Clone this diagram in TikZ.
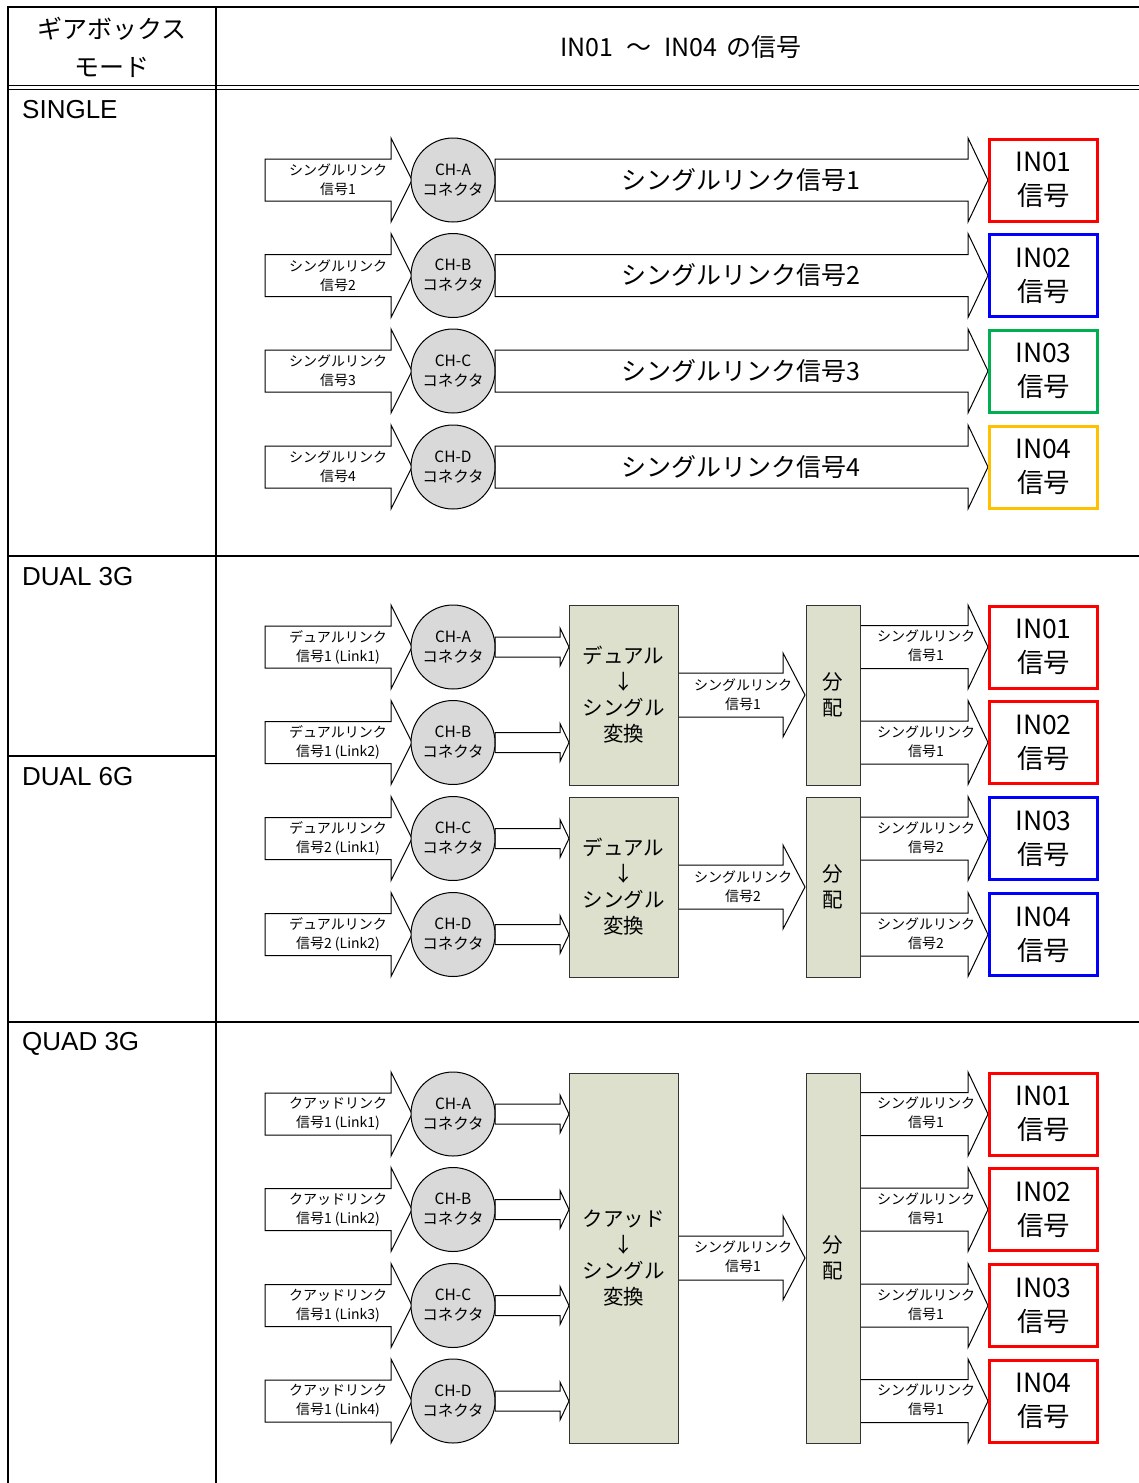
\documentclass[tikz,border=0pt]{standalone}
\usepackage{fontspec}
\setmainfont{Noto Sans CJK JP}
\newfontfamily\latfont{Liberation Sans}
\definecolor{convfill}{RGB}{221,224,204}
\definecolor{circfill}{RGB}{217,217,217}
\definecolor{inblue}{RGB}{0,0,255}
\definecolor{ingreen}{RGB}{0,176,80}
\definecolor{inorange}{RGB}{255,192,0}
\definecolor{inred}{RGB}{255,0,0}
\newcommand{\blkarrow}[6]{\draw[arr] (#1,{#3-#4}) -- ({#2-#6},{#3-#4}) -- ({#2-#6},{#3-#5}) -- (#2,#3) -- ({#2-#6},{#3+#5}) -- ({#2-#6},{#3+#4}) -- (#1,{#3+#4}) -- cycle;}
\begin{document}
\begin{tikzpicture}[x=1pt,y=-1pt,
  tbl/.style={line width=2pt},
  arr/.style={draw=black,fill=white,line width=1pt,line join=miter},
  conn/.style={circle,draw=black,fill=circfill,minimum size=84pt,inner sep=0pt,align=center,line width=1pt,font=\fontsize{15.5}{20}\selectfont},
  inlbl/.style={align=center,inner sep=0pt,font=\fontsize{14}{19}\selectfont},
  biglbl/.style={inner sep=0pt,font=\fontsize{25}{30}\selectfont},
  inbox/.style={draw=#1,line width=3pt,minimum width=108pt,minimum height=82pt,inner sep=0pt,align=center,font=\fontsize{26.5}{34}\selectfont},
  convbox/.style={draw=black!80,fill=convfill,line width=1pt,inner sep=0pt,align=center,font=\fontsize{20.5}{26}\selectfont},
  hdr/.style={align=center,inner sep=0pt,font=\fontsize{25}{38}\selectfont},
  modelbl/.style={anchor=west,inner sep=0pt,font=\latfont\fontsize{26}{30}\selectfont}]
\useasboundingbox (0,0) rectangle (1139,1483);
\fill[white] (0,0) rectangle (1139,1483);
% table
\draw[tbl] (8,7) -- (1139,7);
\draw[tbl] (8,6) -- (8,1483);
\draw[tbl] (216,6) -- (216,1483);
\draw[line width=1.5pt] (8,85.5) -- (1139,85.5);
\draw[line width=1.5pt] (8,89.5) -- (1139,89.5);
\draw[tbl] (8,556) -- (1139,556);
\draw[tbl] (8,756) -- (216,756);
\draw[tbl] (8,1022) -- (1139,1022);
% headers
\node[hdr] (hmode) at (112,47) {ギアボックス\\モード};
\node[hdr] (hsig) at (681,47) {IN01\hspace{13pt}～\hspace{13pt}IN04\hspace{9pt}の信号};
\node[modelbl] (msingle) at (22,110) {SINGLE};
\node[modelbl] (mdual3) at (22,577) {DUAL 3G};
\node[modelbl] (mdual6) at (22,777) {DUAL 6G};
\node[modelbl] (mquad) at (22,1044) {QUAD 3G};
% SINGLE
\foreach \y/\L/\n/\c in {180/A/1/inred,275.5/B/2/inblue,371/C/3/ingreen,467/D/4/inorange}{
  \blkarrow{265}{412}{\y}{21}{42}{21}
  \blkarrow{495}{988}{\y}{21}{42}{20}
  \node[inlbl] (sin\n) at (338,\y) {シングルリンク\\信号\n};
  \node[conn] (sc\n) at (453,\y) {CH-\L\\コネクタ};
  \node[biglbl] (sl\n) at (741,\y) {シングルリンク信号\n};
  \node[inbox=\c] (sbox\n) at (1043.5,\y) {IN0\n\\信号};
}
% DUAL
\foreach \y/\L/\n/\s/\k/\c in {647/A/1/1/1/inred,742.5/B/2/1/2/inred,838.5/C/3/2/1/inblue,934.5/D/4/2/2/inblue}{
  \blkarrow{265}{412}{\y}{21}{42}{21}
  \blkarrow{495}{569}{\y}{10}{19}{9}
  \blkarrow{860}{988}{\y}{21.5}{42}{20}
  \node[inlbl] (din\n) at (338,\y) {デュアルリンク\\信号\s\ (Link\k)};
  \node[conn] (dc\n) at (453,\y) {CH-\L\\コネクタ};
  \node[inlbl] (dout\n) at (926,{\y-1}) {シングルリンク\\信号\s};
  \node[inbox=\c] (dbox\n) at (1043.5,\y) {IN0\n\\信号};
}
\foreach \y/\s in {695/1,887/2}{
  \blkarrow{678}{805}{\y}{22}{42}{22}
  \node[inlbl] (dmid\s) at (743,\y) {シングルリンク\\信号\s};
  \node[convbox,minimum width=109pt,minimum height=180pt] (dconv\s) at (623.5,\y) {デュアル\\↓\\シングル\\変換};
  \node[convbox,minimum width=54pt,minimum height=180pt] (ddist\s) at (833,\y) {分\\配};
}
% QUAD
\foreach \y/\L/\n in {1114/A/1,1209.5/B/2,1305.5/C/3,1401/D/4}{
  \blkarrow{265}{412}{\y}{21}{42}{21}
  \blkarrow{495}{569}{\y}{10}{19}{9}
  \blkarrow{860}{988}{\y}{21.5}{42}{20}
  \node[inlbl] (qin\n) at (338,\y) {クアッドリンク\\信号1 (Link\n)};
  \node[conn] (qc\n) at (453,\y) {CH-\L\\コネクタ};
  \node[inlbl] (qout\n) at (926,{\y-1}) {シングルリンク\\信号1};
  \node[inbox=inred] (qbox\n) at (1043.5,\y) {IN0\n\\信号};
}
\blkarrow{678}{805}{1258}{22}{42}{22}
\node[inlbl] (qmid) at (743,1257) {シングルリンク\\信号1};
\node[convbox,minimum width=109pt,minimum height=370pt] (qconv) at (623.5,1258) {クアッド\\↓\\シングル\\変換};
\node[convbox,minimum width=54pt,minimum height=370pt] (qdist) at (833,1258) {分\\配};
\end{tikzpicture}
\end{document}
